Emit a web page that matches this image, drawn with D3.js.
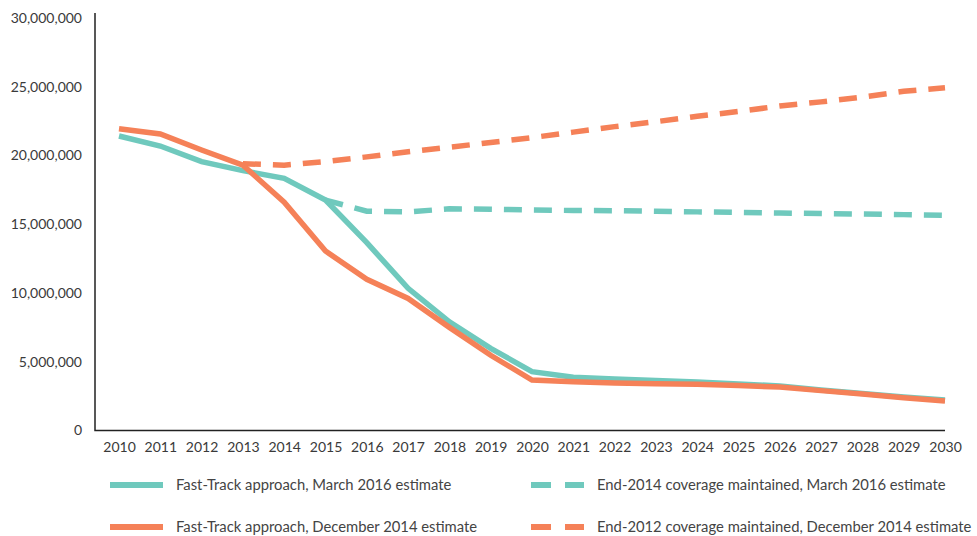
<!DOCTYPE html>
<html>
<head>
<meta charset="utf-8">
<style>
  body { margin: 0; background: #fff; }
  text { font-family: Lato, "Open Sans", sans-serif; }
</style>
</head>
<body>
<svg width="977" height="536"></svg>
<script src="https://d3js.org/d3.v7.min.js"></script>
<script>

// Data (millions of people, by year)
var years = [2010, 2011, 2012, 2013, 2014, 2015, 2016, 2017, 2018, 2019, 2020,
             2021, 2022, 2023, 2024, 2025, 2026, 2027, 2028, 2029, 2030];

var fastTrackMar2016 = [21.42, 20.69, 19.55, 18.9, 18.34, 16.76, 13.66, 10.34, 7.9, 5.98, 4.28,
                        3.87, 3.75, 3.64, 3.53, 3.38, 3.24, 2.95, 2.69, 2.44, 2.22];
var fastTrackDec2014 = [21.95, 21.56, 20.4, 19.3, 16.6, 13.05, 11.0, 9.6, 7.5, 5.47, 3.67,
                        3.55, 3.45, 3.4, 3.36, 3.27, 3.16, 2.9, 2.65, 2.39, 2.15];
var coverage2014Mar2016 = [null, null, null, null, null, 16.76, 15.95, 15.9, 16.12, 16.09, 16.04,
                           16.0, 15.99, 15.94, 15.9, 15.86, 15.82, 15.78, 15.74, 15.7, 15.66];
var coverage2012Dec2014 = [null, null, null, 19.4, 19.3, 19.55, 19.9, 20.27, 20.6, 20.95, 21.3,
                           21.7, 22.1, 22.46, 22.85, 23.2, 23.6, 23.9, 24.25, 24.67, 24.93];

var yTicks = [0, 5000000, 10000000, 15000000, 20000000, 25000000, 30000000];

var legendSolid = ["Fast-Track approach, March 2016 estimate",
                   "Fast-Track approach, December 2014 estimate"];
var legendDashed = ["End-2014 coverage maintained, March 2016 estimate",
                    "End-2012 coverage maintained, December 2014 estimate"];

var teal = "#6fc9bd",
    orange = "#f58158";

var svg = d3.select("svg");

var x = d3.scaleLinear()
    .domain([2010, 2030])
    .range([119, 945]);

var y = d3.scaleLinear()
    .domain([0, 30000000])
    .range([430.5, 18]);

//Series table: dashed ones first so the solid lines sit on top
var series = [
    { values: coverage2014Mar2016, color: teal, dash: "18,12" },
    { values: coverage2012Dec2014, color: orange, dash: "18,12" },
    { values: fastTrackMar2016, color: teal, dash: null },
    { values: fastTrackDec2014, color: orange, dash: null }
];

var line = d3.line()
    .defined(function(d) { return d[1] != null; })
    .x(function(d) { return x(d[0]); })
    .y(function(d) { return y(d[1] * 1000000); });

//Y axis labels
svg.append("g")
    .attr("transform", "translate(95,0)")
    .call(d3.axisLeft(y)
        .tickValues(yTicks)
        .tickSize(0)
        .tickPadding(13)
        .tickFormat(d3.format(",")))
    .call(function(g) { g.select(".domain").remove(); })
    .selectAll("text")
    .attr("font-size", 14)
    .attr("fill", "#3a3a3a");

//X axis labels
svg.append("g")
    .attr("transform", "translate(0," + y(0) + ")")
    .call(d3.axisBottom(x)
        .tickValues(years)
        .tickSize(0)
        .tickPadding(12)
        .tickFormat(d3.format("d")))
    .call(function(g) { g.select(".domain").remove(); })
    .selectAll("text")
    .attr("font-size", 14)
    .attr("fill", "#3a3a3a");

//Axis lines
svg.append("path")
    .attr("d", "M95," + (y(30000000) - 5) + "V" + y(0) + "H" + x(2030))
    .attr("fill", "none")
    .attr("stroke", "#222")
    .attr("stroke-width", 1.5);

//Draw the lines
svg.append("g")
    .selectAll("path")
    .data(series)
    .enter().append("path")
    .attr("d", function(s) { return line(years.map(function(yr, i) { return [yr, s.values[i]]; })); })
    .attr("fill", "none")
    .attr("stroke", function(s) { return s.color; })
    .attr("stroke-width", 5.5)
    .attr("stroke-dasharray", function(s) { return s.dash; });

//Legend
var legendRows = [485, 527];

var legend = svg.append("g");

legendSolid.forEach(function(label, i) {
    legend.append("line")
        .attr("x1", 110).attr("x2", 163)
        .attr("y1", legendRows[i]).attr("y2", legendRows[i])
        .attr("stroke", i == 0 ? teal : orange)
        .attr("stroke-width", 6);
    legend.append("text")
        .attr("x", 176)
        .attr("y", legendRows[i])
        .attr("dy", "0.35em")
        .attr("font-size", 14.8)
        .attr("fill", "#444")
        .text(label);
});

legendDashed.forEach(function(label, i) {
    legend.append("line")
        .attr("x1", 531).attr("x2", 584)
        .attr("y1", legendRows[i]).attr("y2", legendRows[i])
        .attr("stroke", i == 0 ? teal : orange)
        .attr("stroke-width", 6)
        .attr("stroke-dasharray", "20,14");
    legend.append("text")
        .attr("x", 597)
        .attr("y", legendRows[i])
        .attr("dy", "0.35em")
        .attr("font-size", 14.8)
        .attr("fill", "#444")
        .text(label);
});

</script>
</body>
</html>
